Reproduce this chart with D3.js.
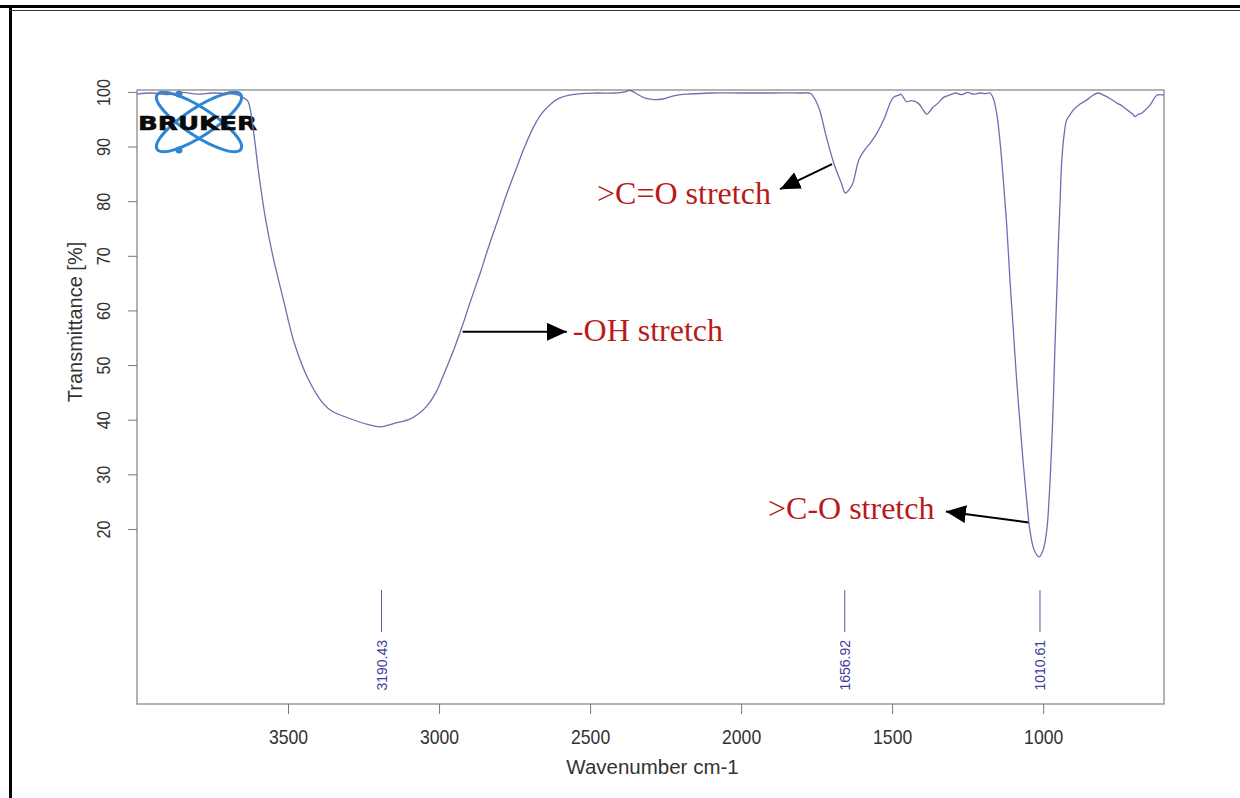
<!DOCTYPE html>
<html>
<head>
<meta charset="utf-8">
<script src="https://cdn.jsdelivr.net/npm/d3@7"></script>
<style>
  body { margin: 0; background: #fff; }
  svg { display: block; }
</style>
</head>
<body>
<svg id="chart" width="1240" height="798"></svg>
<script>
// spectrum (wavenumber cm-1, transmittance %)
var wavenumbers = [4000, 3950, 3900, 3850, 3800, 3750, 3700, 3670, 3650, 3633, 3615, 3597, 3574, 3550, 3515, 3479, 3432, 3384, 3350, 3314, 3280, 3240, 3195, 3150, 3101, 3070, 3042, 3010, 2983, 2950, 2924, 2894, 2864, 2835, 2805, 2776, 2746, 2717, 2687, 2658, 2628, 2600, 2569, 2530, 2480, 2420, 2385, 2368, 2350, 2320, 2290, 2260, 2230, 2200, 2177, 2100, 2000, 1900, 1800, 1770, 1744, 1718, 1693, 1668, 1655, 1640, 1630, 1610, 1591, 1573, 1550, 1528, 1496, 1477, 1471, 1452, 1438, 1413, 1395, 1385, 1365, 1349, 1330, 1311, 1290, 1270, 1250, 1230, 1210, 1190, 1176, 1165, 1154, 1143, 1132, 1120, 1110, 1099, 1088, 1077, 1066, 1055, 1044, 1030, 1013, 1000, 988, 980, 972, 966, 961, 955, 950, 944, 939, 930, 922, 910, 900, 880, 856, 835, 817, 800, 779, 757, 735, 715, 705, 696, 685, 674, 660, 646, 635, 624, 612, 600];
var transmittance = [99.6, 99.8, 99.5, 99.9, 99.6, 99.8, 99.7, 99.5, 99.0, 98.3, 93.0, 85.1, 76.6, 69.9, 61.9, 54.0, 47.3, 43.0, 41.4, 40.6, 39.9, 39.2, 38.7, 39.3, 40.0, 41.0, 42.4, 45.0, 48.5, 53.0, 57.0, 62.0, 66.8, 71.8, 76.6, 81.3, 85.7, 89.9, 93.6, 96.2, 97.9, 98.9, 99.4, 99.7, 99.8, 99.8, 100.0, 100.3, 99.8, 98.9, 98.6, 98.7, 99.2, 99.5, 99.6, 99.8, 99.8, 99.8, 99.8, 99.7, 97.3, 91.8, 86.9, 83.3, 81.5, 82.3, 83.3, 87.6, 89.4, 90.6, 92.5, 94.9, 99.0, 99.4, 99.6, 98.2, 98.4, 97.9, 96.5, 95.9, 97.2, 97.9, 99.0, 99.4, 99.8, 99.5, 99.9, 99.6, 99.8, 99.7, 99.8, 98.8, 96.1, 91.0, 83.9, 75.0, 65.6, 56.5, 47.3, 39.5, 32.0, 25.5, 19.8, 16.2, 14.9, 16.2, 19.8, 26.0, 35.1, 44.0, 53.4, 63.0, 71.7, 80.0, 86.9, 92.5, 94.9, 95.9, 96.7, 97.7, 98.5, 99.4, 99.8, 99.4, 98.8, 98.0, 97.3, 96.4, 96.0, 95.5, 95.9, 96.1, 96.8, 97.6, 98.6, 99.4, 99.5, 99.4];

var xTicks = [3500, 3000, 2500, 2000, 1500, 1000];
var yTicks = [20, 30, 40, 50, 60, 70, 80, 90, 100];
var peakPositions = [3190.43, 1656.92, 1010.61];

// annotations in data coordinates
var annotLabels = [">C=O stretch", "-OH stretch", ">C-O stretch"];
var annotTextW = [2477, 2557, 1911];
var annotTextT = [79.5, 54.4, 21.8];
var arrowFromW = [1699, 2922, 1049];
var arrowFromT = [86.8, 56.1, 21.2];
var arrowToW = [1871, 2577, 1322];
var arrowToT = [82.2, 56.1, 23.2];

var svg = d3.select("#chart");
var plotLeft = 137, plotRight = 1164, plotTop = 90, plotBottom = 704;

var x = d3.scaleLinear().domain([4000, 600]).range([plotLeft, plotRight]);
var y = d3.scaleLinear().domain([-12.04, 100.35]).range([plotBottom, plotTop]);

// page frame (cropped figure border)
svg.append("line").attr("x1", 0).attr("x2", 1240).attr("y1", 6.5).attr("y2", 6.5)
    .attr("stroke", "#000").attr("stroke-width", 3);
svg.append("line").attr("x1", 10.5).attr("x2", 10.5).attr("y1", 6).attr("y2", 798)
    .attr("stroke", "#000").attr("stroke-width", 3);
svg.append("line").attr("x1", 10).attr("x2", 1240).attr("y1", 10.5).attr("y2", 10.5)
    .attr("stroke", "#333").attr("stroke-width", 1.2);

// bruker logo
var logo = svg.append("g").attr("transform", "translate(" + (plotLeft + 62) + "," + (plotTop + 32) + ")");
[-33, 33].forEach(function(a) {
    logo.append("ellipse").attr("rx", 50).attr("ry", 14)
        .attr("transform", "rotate(" + a + ")")
        .attr("fill", "none").attr("stroke", "#2b86d6").attr("stroke-width", 3);
});
logo.append("circle").attr("cx", -20).attr("cy", -28).attr("r", 3.5).attr("fill", "#2b86d6");
logo.append("circle").attr("cx", -20).attr("cy", 28).attr("r", 3.5).attr("fill", "#2b86d6");
logo.append("text").attr("x", -61).attr("y", 7.5)
    .attr("textLength", 119).attr("lengthAdjust", "spacingAndGlyphs")
    .style("font-family", "DejaVu Sans, sans-serif").style("font-weight", "bold")
    .style("font-size", "20px").attr("fill", "#0a0a0a")
    .attr("stroke", "#0a0a0a").attr("stroke-width", 0.6)
    .text("BRUKER");

// plot box
svg.append("rect")
    .attr("x", plotLeft).attr("y", plotTop)
    .attr("width", plotRight - plotLeft).attr("height", plotBottom - plotTop)
    .attr("fill", "none").attr("stroke", "#8a8a8a").attr("stroke-width", 1.3);

// axes
var xAxis = svg.append("g")
    .attr("transform", "translate(0," + plotBottom + ")")
    .call(d3.axisBottom(x).tickValues(xTicks).tickSize(10).tickFormat(d3.format("d")));
xAxis.select(".domain").remove();
xAxis.selectAll("line").attr("stroke", "#777");
xAxis.selectAll("text")
    .attr("y", 33).attr("dy", "0.35em")
    .attr("transform", "scale(0.88,1)")
    .style("font-family", "Liberation Sans, Arial, sans-serif")
    .style("font-size", "20px").attr("fill", "#333");

var yAxis = svg.append("g")
    .attr("transform", "translate(" + plotLeft + ",0)")
    .call(d3.axisLeft(y).tickValues(yTicks).tickSize(9));
yAxis.select(".domain").remove();
yAxis.selectAll("line").attr("stroke", "#777");
yAxis.selectAll("text")
    .attr("x", 0).attr("dy", null)
    .attr("transform", "translate(-33,0) rotate(-90) scale(0.85,1)")
    .attr("text-anchor", "middle").attr("dominant-baseline", "central")
    .style("font-family", "Liberation Sans, Arial, sans-serif")
    .style("font-size", "19px").attr("fill", "#333");

svg.append("text")
    .attr("transform", "translate(75," + ((plotTop + plotBottom) / 2 - 75) + ") rotate(-90)")
    .attr("text-anchor", "middle").attr("dominant-baseline", "central")
    .style("font-family", "Liberation Sans, Arial, sans-serif")
    .style("font-size", "20px").attr("fill", "#333")
    .text("Transmittance [%]");

svg.append("text")
    .attr("x", (plotLeft + plotRight) / 2 + 2).attr("y", 766)
    .attr("text-anchor", "middle").attr("dominant-baseline", "central")
    .style("font-family", "Liberation Sans, Arial, sans-serif")
    .style("font-size", "20.5px").attr("fill", "#333")
    .text("Wavenumber cm-1");

// spectrum
var points = wavenumbers.map(function(w, i) { return [w, transmittance[i]]; });
var line = d3.line()
    .x(function(d) { return x(d[0]); })
    .y(function(d) { return y(d[1]); })
    .curve(d3.curveCatmullRom.alpha(0.5));

svg.append("path")
    .datum(points)
    .attr("d", line)
    .attr("fill", "none")
    .attr("stroke", "#6e6eb2")
    .attr("stroke-width", 1.3);

// peak picks
var peaks = svg.append("g").selectAll("g").data(peakPositions).enter().append("g")
    .attr("transform", function(d) { return "translate(" + x(d) + ",0)"; });
peaks.append("line")
    .attr("y1", plotBottom - 114).attr("y2", plotBottom - 72)
    .attr("stroke", "#5a5aa8").attr("stroke-width", 1);
peaks.append("text")
    .attr("transform", "translate(0," + (plotBottom - 64) + ") rotate(-90)")
    .attr("text-anchor", "end").attr("dominant-baseline", "central")
    .style("font-family", "Liberation Sans, Arial, sans-serif")
    .style("font-size", "14px").attr("fill", "#3d3d9c")
    .text(function(d) { return d.toFixed(2); });

// annotation arrows and labels
var defs = svg.append("defs");
defs.append("marker")
    .attr("id", "head")
    .attr("markerUnits", "userSpaceOnUse")
    .attr("markerWidth", 22).attr("markerHeight", 18)
    .attr("refX", 20).attr("refY", 9)
    .attr("orient", "auto")
    .append("path").attr("d", "M0,0 L20,9 L0,18 Z").attr("fill", "#000");

var ann = svg.append("g").selectAll("g").data(annotLabels).enter().append("g");
ann.append("line")
    .attr("x1", function(d, i) { return x(arrowFromW[i]); })
    .attr("y1", function(d, i) { return y(arrowFromT[i]); })
    .attr("x2", function(d, i) { return x(arrowToW[i]); })
    .attr("y2", function(d, i) { return y(arrowToT[i]); })
    .attr("stroke", "#000").attr("stroke-width", 2)
    .attr("marker-end", "url(#head)");
ann.append("text")
    .attr("x", function(d, i) { return x(annotTextW[i]); })
    .attr("y", function(d, i) { return y(annotTextT[i]); })
    .style("font-family", "Liberation Serif, Times New Roman, serif")
    .style("font-size", "32px").attr("fill", "#b81a1a")
    .text(function(d) { return d; });
</script>
</body>
</html>
